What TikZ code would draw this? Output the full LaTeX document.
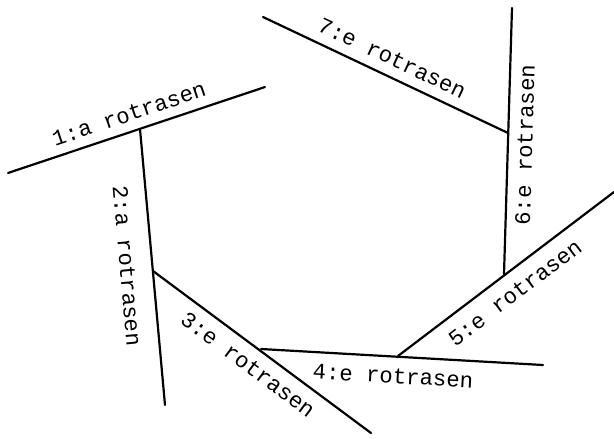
\documentclass[tikz,border=0pt]{standalone}
\usepackage{fontspec}
\setmonofont{Liberation Mono}
\begin{document}
\begin{tikzpicture}[x=1pt,y=-1pt,
  seg/.style={line width=2.2pt, line cap=round},
  lbl/.style={font=\ttfamily\fontsize{22.3}{25}\selectfont, inner sep=0pt}]
\useasboundingbox (0,0) rectangle (614,439);
% endpoints and junctions
\coordinate (a1) at (8,173);
\coordinate (a2) at (265,87);
\coordinate (j12) at (140,129);
\coordinate (b2) at (165,405);
\coordinate (j23) at (153,271);
\coordinate (c2) at (371,433);
\coordinate (j34) at (261,349);
\coordinate (d2) at (543,365);
\coordinate (j45) at (398,356);
\coordinate (e2) at (614,192);
\coordinate (j56) at (504,274);
\coordinate (f2) at (512,8);
\coordinate (j67) at (508,133);
\coordinate (g1) at (263,17);
% lines
\draw[seg] (a1) -- (a2);
\draw[seg] (j12) -- (b2);
\draw[seg] (j23) -- (c2);
\draw[seg] (j34) -- (d2);
\draw[seg] (j45) -- (e2);
\draw[seg] (j56) -- (f2);
\draw[seg] (g1) -- (j67);
% labels
\node[lbl, rotate=18.5] (l1) at (129,114) {1:a rotrasen};
\node[lbl, rotate=-85] (l2) at (127,266) {2:a rotrasen};
\node[lbl, rotate=-36.7] (l3) at (248,365) {3:e rotrasen};
\node[lbl, rotate=-3.2] (l4) at (393,376) {4:e rotrasen};
\node[lbl, rotate=37] (l5) at (515,293) {5:e rotrasen};
\node[lbl, rotate=88.3] (l6) at (525,145) {6:e rotrasen};
\node[lbl, rotate=-25.3] (l7) at (392,58) {7:e rotrasen};
\end{tikzpicture}
\end{document}
